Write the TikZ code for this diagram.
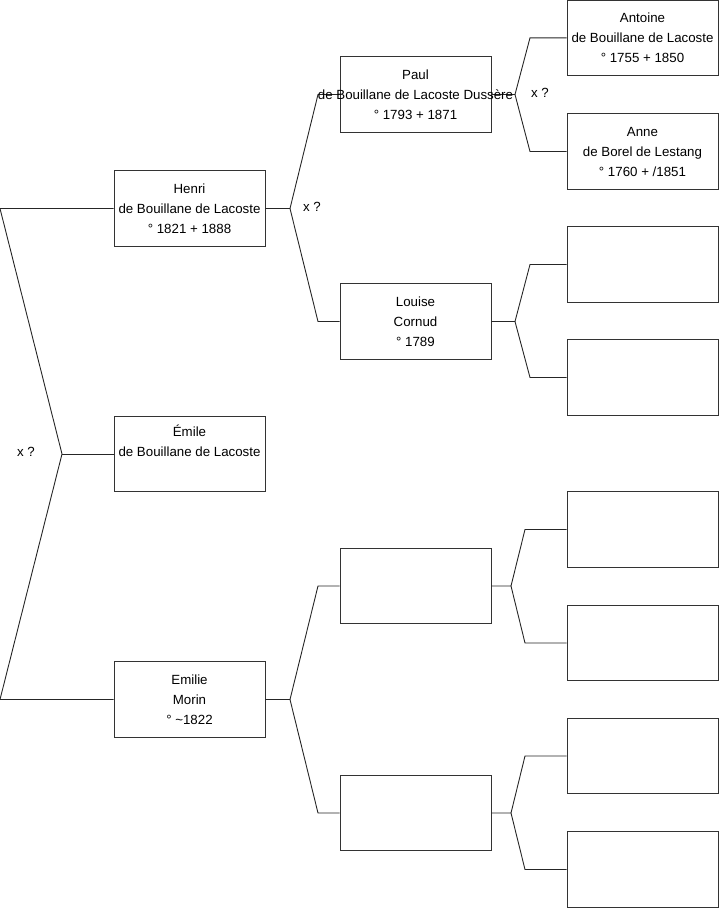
\documentclass[tikz,border=0pt]{standalone}
\usepackage{fontspec}
\setmainfont{Liberation Sans}
\begin{document}
\begin{tikzpicture}[x=1pt,y=-1pt,
  box/.style={draw=black!80,line width=0.9pt,rectangle,minimum width=151pt,minimum height=75.5pt,inner sep=0pt,fill=white},
  txt/.style={align=center,font=\fontsize{13.3}{20}\selectfont,inner sep=0pt},
  conn/.style={draw=black!85,line width=0.9pt},
  lbl/.style={font=\fontsize{13.3}{15}\selectfont,inner sep=0pt}]
\useasboundingbox (0,0) rectangle (719,908);
% generation 1
\node[box] (henri) at (189.5,208.5) {};
\node[box] (emile) at (189.5,454) {};
\node[box] (emilie) at (189.5,699.5) {};
% generation 2
\node[box] (paul) at (415.5,94.5) {};
\node[box] (louise) at (415.5,321.5) {};
\node[box] (gc) at (415.5,586) {};
\node[box] (gd) at (415.5,813) {};
% generation 3
\node[box] (antoine) at (642.5,37.8) {};
\node[box] (anne) at (642.5,151.5) {};
\node[box] (l1) at (642.5,264.5) {};
\node[box] (l2) at (642.5,377.5) {};
\node[box] (c1) at (642.5,529.5) {};
\node[box] (c2) at (642.5,643) {};
\node[box] (d1) at (642.5,756) {};
\node[box] (d2) at (642.5,869.5) {};
% fork coordinates
\coordinate (a1) at (0,208.5);
\coordinate (f0) at (62,454);
\coordinate (a2) at (0,699.5);
\coordinate (f1) at (290,208.5);
\coordinate (f1u) at (318,94.5);
\coordinate (f1d) at (318,321.5);
\coordinate (f2) at (290,699.5);
\coordinate (f2u) at (318,586);
\coordinate (f2d) at (318,813);
\coordinate (f3) at (515,94.5);
\coordinate (f3u) at (530,37.8);
\coordinate (f3d) at (530,151.5);
\coordinate (f4) at (515,321.5);
\coordinate (f4u) at (530,264.5);
\coordinate (f4d) at (530,377.5);
\coordinate (f5) at (511,586);
\coordinate (f5u) at (525,529.5);
\coordinate (f5d) at (525,643);
\coordinate (f6) at (511,813);
\coordinate (f6u) at (525,756);
\coordinate (f6d) at (525,869.5);
% connectors
\draw[conn] (henri.west) -- (a1) -- (f0) -- (a2) -- (emilie.west);
\draw[conn] (f0) -- (emile.west);
\draw[conn] (henri.east) -- (f1) -- (f1u) -- (paul.west);
\draw[conn] (f1) -- (f1d) -- (louise.west);
\draw[conn] (emilie.east) -- (f2) -- (f2u) -- (gc.west);
\draw[conn] (f2) -- (f2d) -- (gd.west);
\draw[conn] (paul.east) -- (f3) -- (f3u) -- (antoine.west);
\draw[conn] (f3) -- (f3d) -- (anne.west);
\draw[conn] (louise.east) -- (f4) -- (f4u) -- (l1.west);
\draw[conn] (f4) -- (f4d) -- (l2.west);
\draw[conn] (gc.east) -- (f5) -- (f5u) -- (c1.west);
\draw[conn] (f5) -- (f5d) -- (c2.west);
\draw[conn] (gd.east) -- (f6) -- (f6u) -- (d1.west);
\draw[conn] (f6) -- (f6d) -- (d2.west);
% texts
\node[txt] at (henri) {Henri\\de Bouillane de Lacoste\\° 1821 + 1888};
\node[txt] at (emile) {Émile\\de Bouillane de Lacoste\\\strut};
\node[txt] at (emilie) {Emilie\\Morin\\° \textasciitilde1822};
\node[txt] at (paul) {Paul\\de Bouillane de Lacoste Dussère\\° 1793 + 1871};
\node[txt] at (louise) {Louise\\Cornud\\° 1789};
\node[txt] at (antoine) {Antoine\\de Bouillane de Lacoste\\° 1755 + 1850};
\node[txt] at (anne) {Anne\\de Borel de Lestang\\° 1760 + /1851};
% marriage labels
\node[lbl] (m0) at (26,452) {x ?};
\node[lbl] (m1) at (312,207) {x ?};
\node[lbl] (m3) at (540,93) {x ?};
\end{tikzpicture}
\end{document}
